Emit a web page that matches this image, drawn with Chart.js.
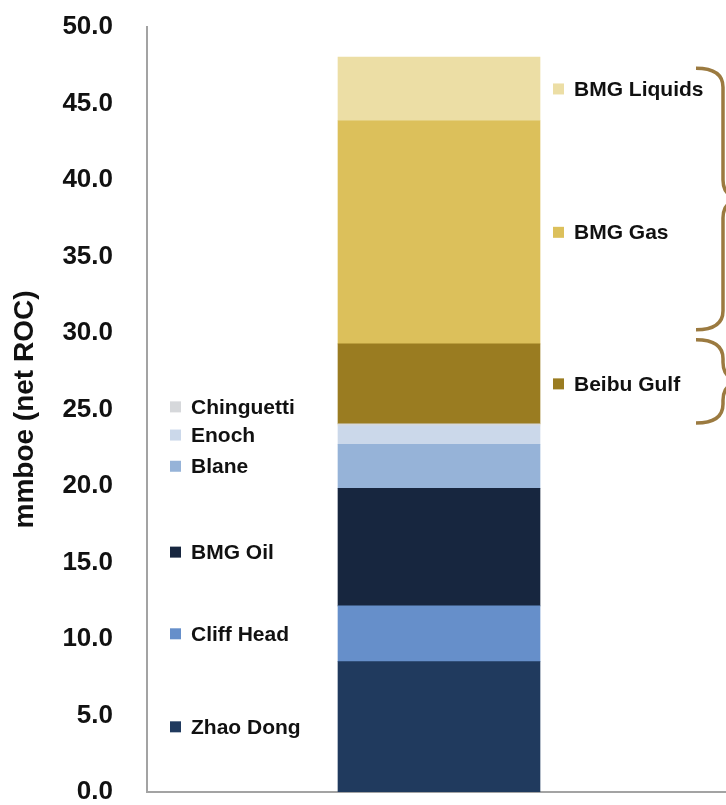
<!DOCTYPE html>
<html>
<head>
<meta charset="utf-8">
<script src="https://cdn.jsdelivr.net/npm/chart.js@4.4.1/dist/chart.umd.min.js"></script>
<style>
  html, body { margin: 0; padding: 0; background: #fff; overflow: hidden; }
  #wrap { width: 731px; height: 805px; }
</style>
</head>
<body>
<div id="wrap"><canvas id="chartReserves"></canvas></div>
<script>
// segments from bottom to top
const fields = ['Zhao Dong', 'Cliff Head', 'BMG Oil', 'Blane', 'Enoch', 'Chinguetti', 'Beibu Gulf', 'BMG Gas', 'BMG Liquids'];
const volumes = [8.52, 3.64, 7.69, 2.88, 1.2, 0.13, 5.23, 14.58, 4.16];
const colors = ['#203a5e', '#668fca', '#17263f', '#96b3d8', '#cbd8ea', '#d6d8db', '#9a7c21', '#dcc05b', '#ecdea5'];
const yTicks = [0, 5, 10, 15, 20, 25, 30, 35, 40, 45, 50];

const font = "'Liberation Sans', Arial, sans-serif";

// labels next to the bar: left side for the first six, right side for the rest
const labelPlugin = {
  id: 'sideLabels',
  afterDatasetsDraw(chart) {
    const ctx = chart.ctx;
    const y = chart.scales.y;
    const nudge = { 'BMG Oil': 5, 'Chinguetti': -18 };
    let base = 0;
    ctx.save();
    ctx.font = 'bold 21px ' + font;
    ctx.textBaseline = 'middle';
    ctx.textAlign = 'left';
    chart.data.datasets.forEach((ds, i) => {
      const bar = chart.getDatasetMeta(i).data[0];
      const v = ds.data[0];
      const py = y.getPixelForValue(base + v / 2) + (nudge[ds.label] || 0);
      base += v;
      const left = bar.x - bar.width / 2;
      const right = bar.x + bar.width / 2;
      const sx = i < 6 ? left - 168 : right + 13;
      ctx.fillStyle = ds.backgroundColor;
      ctx.fillRect(sx, py - 5.5, 11, 11);
      ctx.fillStyle = '#111';
      ctx.fillText(ds.label, sx + 21, py + 1);
    });

    // curly braces on the right edge
    const total = volumes.reduce((a, b) => a + b, 0);
    const gulfTop = volumes.slice(0, 7).reduce((a, b) => a + b, 0);
    const gulfBottom = volumes.slice(0, 6).reduce((a, b) => a + b, 0);
    const brace = (top, bottom) => {
      const x0 = 696, x1 = 723, r = 19;
      const mid = (top + bottom) / 2;
      ctx.beginPath();
      ctx.moveTo(x0, top);
      ctx.quadraticCurveTo(x1, top, x1, top + r);
      ctx.lineTo(x1, Math.max(top + r, mid - r));
      ctx.quadraticCurveTo(x1, mid, x1 + 22, mid);
      ctx.quadraticCurveTo(x1, mid, x1, Math.min(bottom - r, mid + r));
      ctx.lineTo(x1, bottom - r);
      ctx.quadraticCurveTo(x1, bottom, x0, bottom);
      ctx.stroke();
    };
    ctx.strokeStyle = '#9b7a40';
    ctx.lineWidth = 3.5;
    brace(y.getPixelForValue(total) + 11, y.getPixelForValue(gulfTop) - 14);
    brace(y.getPixelForValue(gulfTop) - 4, y.getPixelForValue(gulfBottom) - 1);
    ctx.restore();
  }
};

const data = {
  labels: [''],
  datasets: fields.map((f, i) => ({
    label: f,
    data: [volumes[i]],
    backgroundColor: colors[i],
    borderWidth: 0,
    barThickness: 202
  }))
};

const config = {
  type: 'bar',
  data: data,
  options: {
    responsive: true,
    maintainAspectRatio: false,
    animation: false,
    layout: { padding: { top: 27, right: 0, bottom: 13, left: 0 } },
    plugins: {
      legend: { display: false },
      tooltip: { enabled: false }
    },
    scales: {
      x: {
        stacked: true,
        grid: { display: false, drawTicks: false },
        border: { display: true, color: '#a3a3a3', width: 2 },
        ticks: { display: false, padding: 0 },
        afterFit(scale) { scale.height = 0; scale.paddingLeft = 0; scale.paddingRight = 0; }
      },
      y: {
        stacked: true,
        min: 0,
        max: 50,
        afterFit(scale) { scale.width = 147; scale.paddingTop = 0; scale.paddingBottom = 0; },
        afterBuildTicks(scale) { scale.ticks = yTicks.map(v => ({ value: v })); },
        grid: { display: false, drawTicks: false },
        border: { display: true, color: '#a3a3a3', width: 2 },
        ticks: {
          padding: 34,
          color: '#111',
          font: { family: font, size: 26, weight: 'bold', lineHeight: 1 },
          callback: v => v.toFixed(1)
        },
        title: {
          display: true,
          text: 'mmboe (net ROC)',
          color: '#111',
          padding: { top: 8, bottom: 0 },
          font: { family: font, size: 28, weight: 'bold' }
        }
      }
    }
  },
  plugins: [labelPlugin]
};

const node = document.getElementById('chartReserves');
var chartReserves = new Chart(node, config);
</script>
</body>
</html>
